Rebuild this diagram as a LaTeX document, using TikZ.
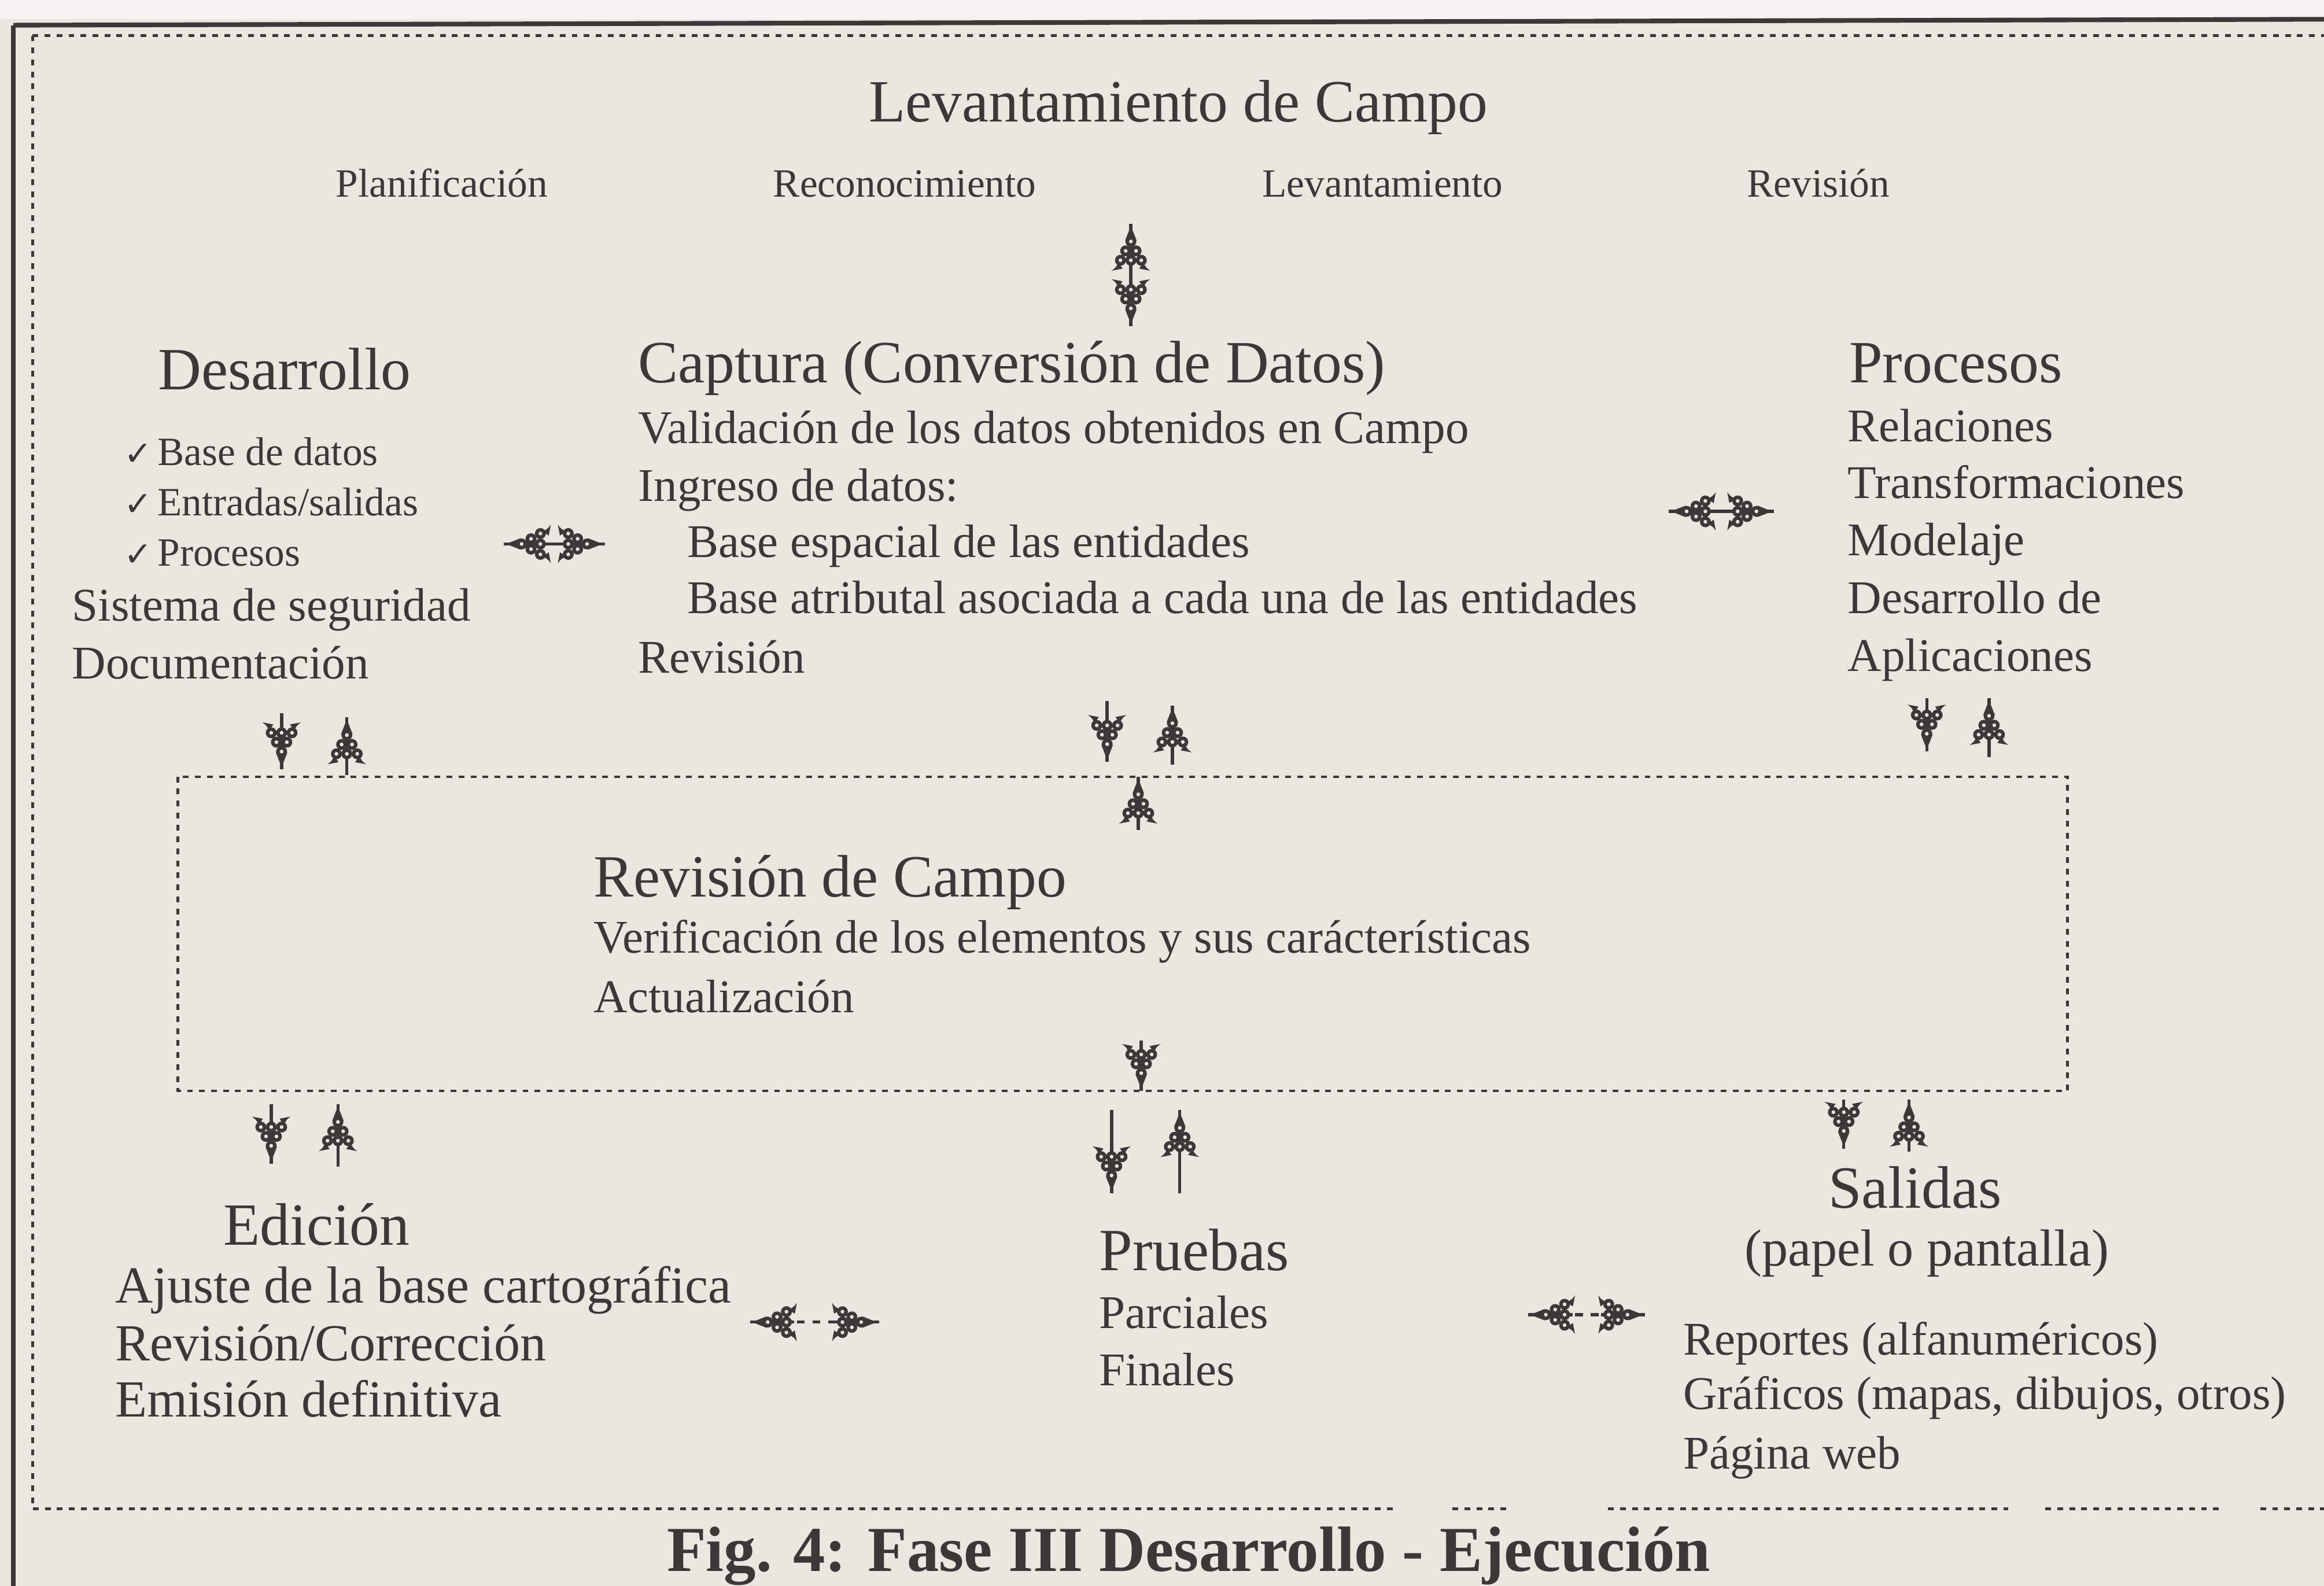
\documentclass[tikz,border=0pt]{standalone}
\usepackage{fontspec}
\setmainfont{Liberation Serif}
\newfontfamily\symfont{DejaVu Sans}
\usetikzlibrary{decorations.markings}
\definecolor{ink}{HTML}{3B3837}
\definecolor{paper}{HTML}{E9E7E0}
\newcommand{\chk}{{\symfont\fontsize{6.5}{7}\selectfont ✓}\kern1pt}
\tikzset{
  pics/bunch/.style={code={
    \draw[ink,solid,line width=0.6pt](0,0)--(-8.5pt,0);
    \fill[ink](-0.4pt,0)--(-3.2pt,1.1pt)--(-3.2pt,-1.1pt)--cycle;
    \foreach \px/\py in {-3.4/0,-5.2/1,-5.2/-1,-7/2,-7/0,-7/-2}{
      \fill[ink](\px pt,\py pt)circle(1.05pt);
      \fill[paper](\px pt,\py pt)circle(0.36pt);
    }
    \fill[ink](-7.4pt,2.4pt)..controls(-8.4pt,2.9pt)..(-9pt,3.7pt)--(-8.6pt,1.6pt)--cycle;
    \fill[ink](-7.4pt,-2.4pt)..controls(-8.4pt,-2.9pt)..(-9pt,-3.7pt)--(-8.6pt,-1.6pt)--cycle;
  }},
  bunch tip/.style={ink,line width=0.6pt,postaction={decorate},
    decoration={markings,mark=at position 1 with {\pic[transform shape]{bunch};}}},
  bunch both/.style={ink,line width=0.6pt,postaction={decorate},
    decoration={markings,mark=at position 0 with {\pic[transform shape,rotate=180]{bunch};},
      mark=at position 1 with {\pic[transform shape]{bunch};}}}
}
\begin{document}
\begin{tikzpicture}[x=0.1mm,y=-0.1mm,
  hd/.style={anchor=base west,inner sep=0pt,text=ink,font=\fontsize{11.5}{14}\selectfont},
  bd/.style={anchor=base west,inner sep=0pt,text=ink,font=\fontsize{9}{11}\selectfont},
  ed/.style={anchor=base west,inner sep=0pt,text=ink,font=\fontsize{10}{12}\selectfont},
  sm/.style={anchor=base west,inner sep=0pt,text=ink,font=\fontsize{7.7}{9}\selectfont},
  figcap/.style={anchor=base,inner sep=0pt,text=ink,font=\fontsize{12.3}{15}\selectfont\bfseries},
  solidline/.style={ink,line width=0.9pt},
  dots/.style={ink,line width=0.5pt,dash pattern=on 1.1pt off 1.2pt}]
	\fill[paper](0,0)rectangle(1568,1070);
	\fill[paper!50!white](0,0)rectangle(1568,13);
	\useasboundingbox(0,0)rectangle(1568,1070);
	\draw[solidline](9,17)--(1568,13);
	\draw[solidline](9,17)--(9,1070);
	\draw[dots](22,24)--(1568,24);
	\draw[dots](22,24)--(22,1018)--(940,1018);
	\draw[dots](980,1018)--(1020,1018);
	\draw[dots](1085,1018)--(1355,1018);
	\draw[dots](1380,1018)--(1500,1018);
	\draw[dots](1525,1018)--(1568,1018);
	\draw[dots](120,524)rectangle(1395,736);
	\node[hd,anchor=base](lev) at(795,82){Levantamiento de Campo};
	\node[sm](plan) at(226,133){Planificación};
	\node[sm](recon) at(521,133){Reconocimiento};
	\node[sm](levt) at(851,133){Levantamiento};
	\node[sm](revs) at(1178,133){Revisión};
	\node[hd](des) at(106,263){Desarrollo};
	\node[sm](des1) at(83,314){\chk Base de datos};
	\node[sm](des2) at(83,348){\chk Entradas/salidas};
	\node[sm](des3) at(83,382){\chk Procesos};
	\node[bd](des4) at(48,419){Sistema de seguridad};
	\node[bd](des5) at(48,458){Documentación};
	\node[hd](capt) at(430,258){Captura (Conversión de Datos)};
	\node[bd](capt1) at(430,299){Validación de los datos obtenidos en Campo};
	\node[bd](capt2) at(430,338){Ingreso de datos:};
	\node[bd](capt3) at(463,376){Base espacial de las entidades};
	\node[bd](capt4) at(463,414){Base atributal asociada a cada una de las entidades};
	\node[bd](capt5) at(430,454){Revisión};
	\node[hd](proc) at(1247,258){Procesos};
	\node[bd](proc1) at(1246,298){Relaciones};
	\node[bd](proc2) at(1246,336){Transformaciones};
	\node[bd](proc3) at(1246,375){Modelaje};
	\node[bd](proc4) at(1246,414){Desarrollo de};
	\node[bd](proc5) at(1246,453){Aplicaciones};
	\node[hd](rcam) at(400,605){Revisión de Campo};
	\node[bd](rcam1) at(400,643){Verificación de los elementos y sus carácterísticas};
	\node[bd](rcam2) at(400,683){Actualización};
	\node[hd](edi) at(150,840){Edición};
	\node[ed](edi1) at(77,879){Ajuste de la base cartográfica};
	\node[ed](edi2) at(77,918){Revisión/Corrección};
	\node[ed](edi3) at(77,956){Emisión definitiva};
	\node[hd](pru) at(741,857){Pruebas};
	\node[bd](pru1) at(741,896){Parciales};
	\node[bd](pru2) at(741,935){Finales};
	\node[hd,anchor=base](sal) at(1292,815){Salidas};
	\node[ed,anchor=base](sal0) at(1300,854){(papel o pantalla)};
	\node[bd](sal1) at(1135,914){Reportes (alfanuméricos)};
	\node[bd](sal2) at(1135,951){Gráficos (mapas, dibujos, otros)};
	\node[bd](sal3) at(1135,991){Página web};
	\node[figcap](fig) at(802,1060){Fig. 4: Fase III Desarrollo - Ejecución};
	\coordinate(levA) at(763,151);
	\coordinate(levB) at(763,220);
	\coordinate(desE) at(340,367);
	\coordinate(captW) at(408,367);
	\coordinate(captE) at(1126,345);
	\coordinate(procW) at(1197,345);
	\coordinate(d1a) at(190,481);
	\coordinate(d1b) at(190,519);
	\coordinate(u1a) at(234,523);
	\coordinate(u1b) at(234,484);
	\coordinate(d2a) at(747,473);
	\coordinate(d2b) at(747,514);
	\coordinate(u2a) at(791,516);
	\coordinate(u2b) at(791,476);
	\coordinate(d3a) at(1300,471);
	\coordinate(d3b) at(1300,507);
	\coordinate(u3a) at(1342,511);
	\coordinate(u3b) at(1342,471);
	\coordinate(rcA) at(768,560);
	\coordinate(rcB) at(768,524);
	\coordinate(rcC) at(770,702);
	\coordinate(rcD) at(770,736);
	\coordinate(d4a) at(183,745);
	\coordinate(d4b) at(183,785);
	\coordinate(u4a) at(228,787);
	\coordinate(u4b) at(228,745);
	\coordinate(d5a) at(750,749);
	\coordinate(d5b) at(750,805);
	\coordinate(u5a) at(796,805);
	\coordinate(u5b) at(796,749);
	\coordinate(d6a) at(1244,742);
	\coordinate(d6b) at(1244,775);
	\coordinate(u6a) at(1288,777);
	\coordinate(u6b) at(1288,742);
	\coordinate(ediE) at(506,892);
	\coordinate(pruW) at(593,892);
	\coordinate(pruE) at(1031,887);
	\coordinate(salW) at(1110,887);
	\draw[bunch both](levA)--(levB);
	\draw[bunch both](desE)--(captW);
	\draw[bunch both](captE)--(procW);
	\draw[bunch tip](d1a)--(d1b);
	\draw[bunch tip](u1a)--(u1b);
	\draw[bunch tip](d2a)--(d2b);
	\draw[bunch tip](u2a)--(u2b);
	\draw[bunch tip](d3a)--(d3b);
	\draw[bunch tip](u3a)--(u3b);
	\draw[bunch tip](rcA)--(rcB);
	\draw[bunch tip](rcC)--(rcD);
	\draw[bunch tip](d4a)--(d4b);
	\draw[bunch tip](u4a)--(u4b);
	\draw[bunch tip](d5a)--(d5b);
	\draw[bunch tip](u5a)--(u5b);
	\draw[bunch tip](d6a)--(d6b);
	\draw[bunch tip](u6a)--(u6b);
	\draw[bunch both,dash pattern=on 1.5pt off 1.5pt](ediE)--(pruW);
	\draw[bunch both,dash pattern=on 1.5pt off 1.5pt](pruE)--(salW);
\end{tikzpicture}
\end{document}
